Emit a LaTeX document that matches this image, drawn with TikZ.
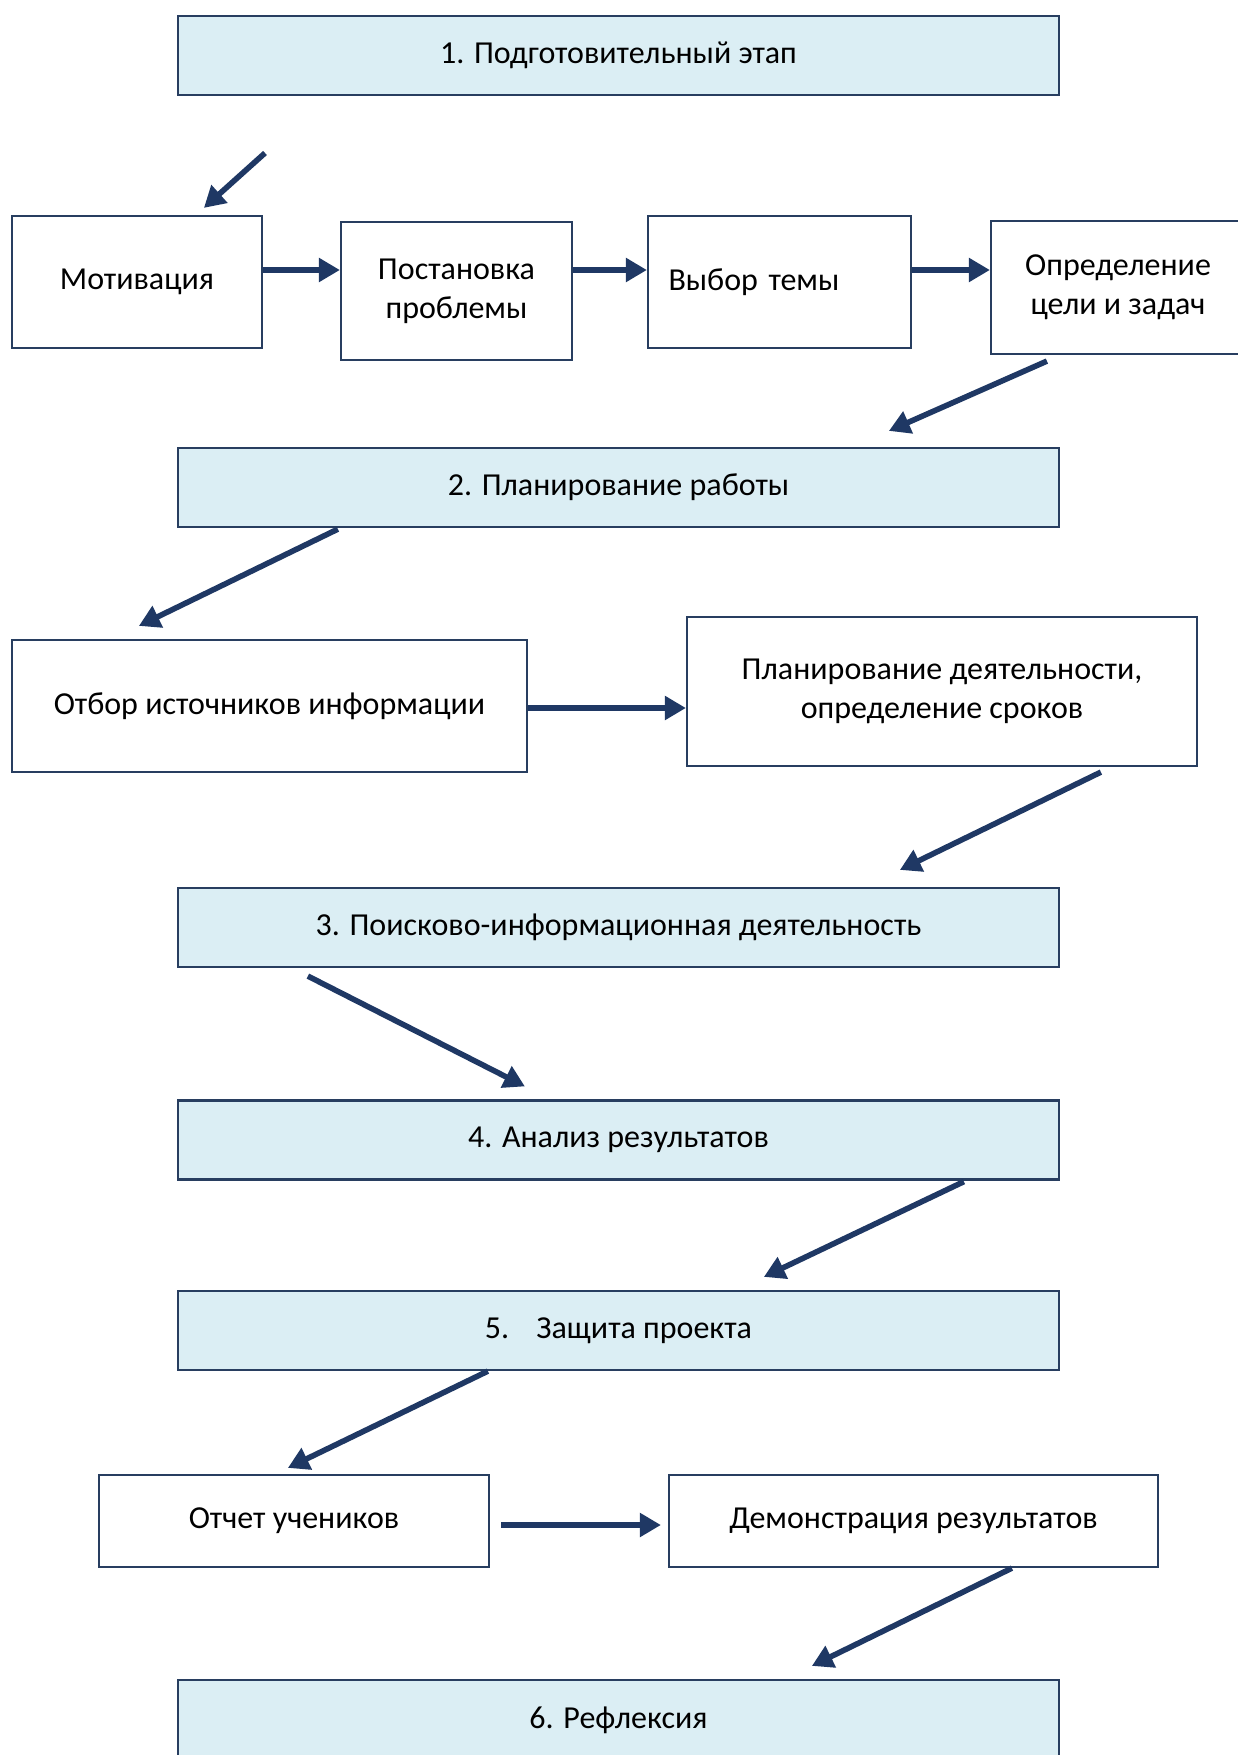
\documentclass[tikz,border=0pt]{standalone}
\usepackage{fontspec}
\setmainfont{Carlito}
\usepackage{xcolor}
\usetikzlibrary{arrows.meta}
\definecolor{LightBlue}{RGB}{219, 238, 244}
\definecolor{DarkBlue}{RGB}{31, 56, 100}
\definecolor{EdgeBlue}{RGB}{40, 62, 96}

\begin{document}
\begin{tikzpicture}[x = 0.5pt, y = -0.5pt,
    stage/.style = {draw = EdgeBlue, line width = 1.1pt, fill = LightBlue, minimum width = 440.5pt, minimum height = 39.5pt, font = \fontsize{16}{19.5}\selectfont},
    box/.style = {draw = EdgeBlue, line width = 1.1pt, fill = white, align = center, font = \fontsize{16}{19.5}\selectfont},
    flow/.style = {draw = DarkBlue, line width = 2.8pt, -{Triangle[length = 10.5pt, width = 11.5pt]}}]
            %画布大小
            \useasboundingbox (0, 0) rectangle (1237, 1755);
            %阶段框
            \node[stage] (s1) at (618.5, 55.5) {1. Подготовительный этап};
            \node[stage] (s2) at (618.5, 487.5) {2. Планирование работы};
            \node[stage] (s3) at (618.5, 927.5) {3. Поисково-информационная деятельность};
            \node[stage] (s4) at (618.5, 1140) {4. Анализ результатов};
            \node[stage] (s5) at (618.5, 1330.5) {5.\hspace{0.85em}Защита проекта};
            \node[stage, minimum height = 40pt] (s6) at (618.5, 1720) {6. Рефлексия};
            %第一阶段的小框
            \node[box, minimum width = 125pt, minimum height = 66pt] (motiv) at (137, 282) {Мотивация};
            \node[box, minimum width = 115.5pt, minimum height = 69pt] (post) at (456.5, 291) {Постановка\\проблемы};
            \node[box, minimum width = 131.5pt, minimum height = 66pt, inner xsep = 10pt, text width = 111pt, align = left] (vybor) at (779.5, 282) {Выбор темы};
            \node[box, minimum width = 127pt, minimum height = 66.5pt] (opr) at (1118, 287.5) {Определение\\цели и задач};
            %第二阶段的小框
            \node[box, minimum width = 257.5pt, minimum height = 66pt] (otbor) at (269.5, 706) {Отбор источников информации};
            \node[box, minimum width = 255pt, minimum height = 74.5pt] (plan) at (942, 691.5) {Планирование деятельности,\\определение сроков};
            %第五阶段的小框
            \node[box, minimum width = 195pt, minimum height = 46pt] (otchet) at (294, 1521) {Отчет учеников};
            \node[box, minimum width = 244.5pt, minimum height = 46pt] (demo) at (913.5, 1521) {Демонстрация результатов};
            %箭头
            \coordinate (start) at (265, 153);
            \draw[flow] (start) -- ([shift = {(193, -7)}]motiv.north west);
            \draw[flow] ([yshift = 6pt]motiv.east) -- ([yshift = 6pt]motiv.east -| post.west);
            \draw[flow] ([yshift = 10.5pt]post.east) -- ([yshift = 10.5pt]post.east -| vybor.west);
            \draw[flow] ([yshift = 6pt]vybor.east) -- ([yshift = 6pt]vybor.east -| opr.west);
            \draw[flow] ([shift = {(57, 6)}]opr.south west) -- ([shift = {(712, -16)}]s2.north west);
            \draw[flow] ([shift = {(161, 1)}]s2.south west) -- ([shift = {(128, -13)}]otbor.north west);
            \draw[flow] ([yshift = -1pt]otbor.east) -- ([yshift = -1pt]otbor.east -| plan.west);
            \draw[flow] ([shift = {(415, 5)}]plan.south west) -- ([shift = {(723, -17)}]s3.north west);
            \draw[flow] ([shift = {(131, 8)}]s3.south west) -- ([shift = {(348, -13)}]s4.north west);
            \draw[flow] ([shift = {(787, 1)}]s4.south west) -- ([shift = {(587, -13)}]s5.north west);
            \draw[flow] ([shift = {(311, 0)}]s5.south west) -- ([shift = {(190, -6)}]otchet.north west);
            \draw[flow] ([shift = {(11, 4)}]otchet.east) -- ([shift = {(-7, 4)}]demo.west);
            \draw[flow] ([shift = {(344, 0)}]demo.south west) -- ([shift = {(635, -13)}]s6.north west);
        \end{tikzpicture}
\end{document}
